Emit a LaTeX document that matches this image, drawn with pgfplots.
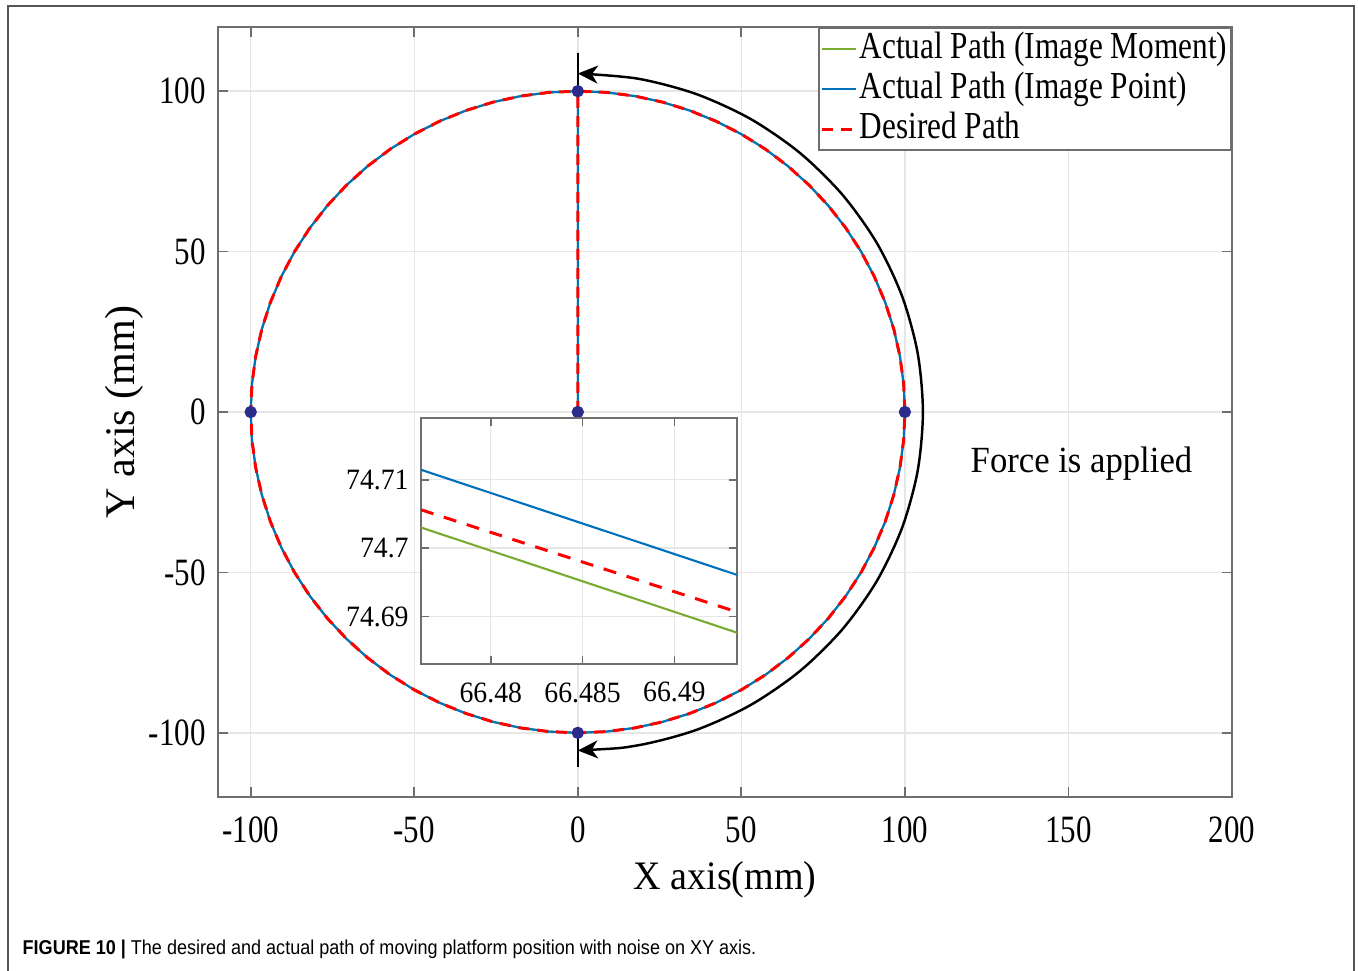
\documentclass[border=0pt]{standalone}
\usepackage{fontspec}
\setmainfont{Liberation Serif}
\newfontfamily\tickfont{Liberation Serif}[FakeStretch=0.8]
\newfontfamily\legfont{Liberation Serif}[FakeStretch=0.82]
\newfontfamily\labfont{Liberation Serif}[FakeStretch=0.94]
\newfontfamily\capfont{Liberation Sans}[FakeStretch=0.9]
\usepackage{pgfplots}
\usepackage{pgfplotstable}
\pgfplotsset{compat=1.18}
\usetikzlibrary{arrows.meta}

\definecolor{mgreen}{HTML}{77AC30}
\definecolor{mblue}{HTML}{0072BD}
\definecolor{mred}{HTML}{FF0000}
\definecolor{mnavy}{HTML}{2B2B8C}
\definecolor{axgray}{HTML}{6E6E6E}
\definecolor{gridgray}{HTML}{E6E6E6}
\definecolor{framegray}{HTML}{555555}

% path: origin -> (0,100), then once round the circle of radius 100 (clockwise)
\pgfplotstableread{
x y
0 0
0 100
8.72 99.62
17.36 98.48
25.88 96.59
34.20 93.97
42.26 90.63
50.00 86.60
57.36 81.92
64.28 76.60
70.71 70.71
76.60 64.28
81.92 57.36
86.60 50.00
90.63 42.26
93.97 34.20
96.59 25.88
98.48 17.36
99.62 8.72
100 0
99.62 -8.72
98.48 -17.36
96.59 -25.88
93.97 -34.20
90.63 -42.26
86.60 -50.00
81.92 -57.36
76.60 -64.28
70.71 -70.71
64.28 -76.60
57.36 -81.92
50.00 -86.60
42.26 -90.63
34.20 -93.97
25.88 -96.59
17.36 -98.48
8.72 -99.62
0 -100
-8.72 -99.62
-17.36 -98.48
-25.88 -96.59
-34.20 -93.97
-42.26 -90.63
-50.00 -86.60
-57.36 -81.92
-64.28 -76.60
-70.71 -70.71
-76.60 -64.28
-81.92 -57.36
-86.60 -50.00
-90.63 -42.26
-93.97 -34.20
-96.59 -25.88
-98.48 -17.36
-99.62 -8.72
-100 0
-99.62 8.72
-98.48 17.36
-96.59 25.88
-93.97 34.20
-90.63 42.26
-86.60 50.00
-81.92 57.36
-76.60 64.28
-70.71 70.71
-64.28 76.60
-57.36 81.92
-50.00 86.60
-42.26 90.63
-34.20 93.97
-25.88 96.59
-17.36 98.48
-8.72 99.62
0 100
}\pathdata

% the "force" arrow, radius 105.5
\pgfplotstableread{
x y
0 -105.5
18.32 -103.90
36.08 -99.14
52.75 -91.37
67.81 -80.82
80.82 -67.81
91.37 -52.75
99.14 -36.08
103.90 -18.32
105.5 0
103.90 18.32
99.14 36.08
91.37 52.75
80.82 67.81
67.81 80.82
52.75 91.37
36.08 99.14
18.32 103.90
0 105.5
}\arcdata

% zoomed inset, in offset units: u = (x-66.48)*1000, v = (y-74.7)*1000
\pgfplotstableread{
u v
-3.80 3.02
13.41 -12.36
}\insetgreen
\pgfplotstableread{
u v
-3.80 11.46
13.41 -3.91
}\insetblue
\pgfplotstableread{
u v
-3.80 5.61
13.41 -9.33
}\insetred

\begin{document}
\begin{tikzpicture}
\path[use as bounding box] (-21.8mm,-17.3mm) rectangle (114.0mm,79.7mm);
\draw[framegray, line width=0.2mm] (-21.0mm,-17.5mm) -- (-21.0mm,79.1mm) -- (113.6mm,79.1mm) -- (113.6mm,-17.5mm);

\begin{axis}[
  at={(0,0)}, anchor=south west,
  scale only axis, width=101.4mm, height=77mm,
  xmin=-110, xmax=200, ymin=-120, ymax=120,
  xtick={-100,-50,...,200}, ytick={-100,-50,...,100},
  grid=major, major grid style={gridgray, line width=0.4pt},
  axis line style={axgray, line width=0.5pt},
  tick style={axgray, line width=0.5pt}, major tick length=1mm, tick align=inside,
  tick label style={font=\tickfont\fontsize{11pt}{13pt}\selectfont, text=black},
  /pgf/number format/assume math mode=true,
  xticklabel style={yshift=-0.7mm},
  xlabel={X axis(mm)},
  xlabel style={at={(axis description cs:0.5,-0.1195)}, anchor=base, font=\labfont\fontsize{11.5pt}{13pt}\selectfont},
  ylabel={Y axis (mm)},
  ylabel style={at={(axis description cs:-0.0828,0.5)}, anchor=base, rotate=0, font=\rmfamily\fontsize{12pt}{14pt}\selectfont},
  legend style={at={(1,1)}, anchor=north east, draw=axgray, line width=0.5pt,
    font=\legfont\fontsize{10.85pt}{12pt}\selectfont,
    inner xsep=0.2mm, inner ysep=0.1mm,
    nodes={inner xsep=0.2mm, inner ysep=0.3mm, text height=0.75em, text depth=0.22em}},
  legend cell align=left,
  legend image code/.code={\draw[#1] (0mm,0mm) -- (3.4mm,0mm);},
]
\addplot[mgreen, line width=0.6pt] table {\pathdata};
\addlegendentry{Actual Path (Image Moment)}
\addplot[mblue, line width=0.6pt] table {\pathdata};
\addlegendentry{Actual Path (Image Point)}
\addplot[mred, line width=0.85pt, dash pattern=on 1.1mm off 0.8mm] table {\pathdata};
\addlegendentry{Desired Path}

\addplot[black, line width=0.7pt, smooth, forget plot,
  {Stealth[length=2mm, width=1.8mm, inset=0.6mm]}-{Stealth[length=2mm, width=1.8mm, inset=0.6mm]}] table {\arcdata};
\addplot[black, line width=0.7pt, forget plot] coordinates {(0,100) (0,112)};
\addplot[black, line width=0.7pt, forget plot] coordinates {(0,-100) (0,-110.5)};
\addplot[only marks, mark=*, mark size=1.55pt, mnavy, forget plot]
  coordinates {(0,100) (0,0) (100,0) (-100,0) (0,-100)};

\node[anchor=base west, inner sep=0pt, font=\labfont\fontsize{10.5pt}{13pt}\selectfont] at (axis cs:119.9,-18.9) {Force is applied};
\end{axis}

\begin{axis}[
  at={(20.3mm,13.3mm)}, anchor=south west,
  scale only axis, width=31.6mm, height=24.6mm,
  axis background/.style={fill=white},
  xmin=-3.80, xmax=13.41, ymin=-16.94, ymax=19.03,
  xtick={0,5,10}, xticklabels={66.48,66.485,66.49},
  ytick={-10,0,10}, yticklabels={74.69,74.7,74.71},
  grid=major, major grid style={gridgray, line width=0.4pt},
  axis line style={axgray, line width=0.5pt},
  tick style={axgray, line width=0.5pt}, major tick length=0.8mm, tick align=inside,
  tick label style={font=\labfont\fontsize{8.4pt}{10pt}\selectfont, text=black},
  xticklabel style={yshift=-0.6mm},
]
\addplot[mgreen, line width=0.6pt] table {\insetgreen};
\addplot[mblue, line width=0.6pt] table {\insetblue};
\addplot[mred, line width=0.85pt, dash pattern=on 1.3mm off 1.1mm] table {\insetred};
\end{axis}

\node[anchor=base west, inner sep=0pt, font=\capfont\fontsize{5.7pt}{7pt}\selectfont] at (-19.6mm,-15.7mm)
  {\textbf{FIGURE 10 |} The desired and actual path of moving platform position with noise on XY axis.};
\end{tikzpicture}
\end{document}
